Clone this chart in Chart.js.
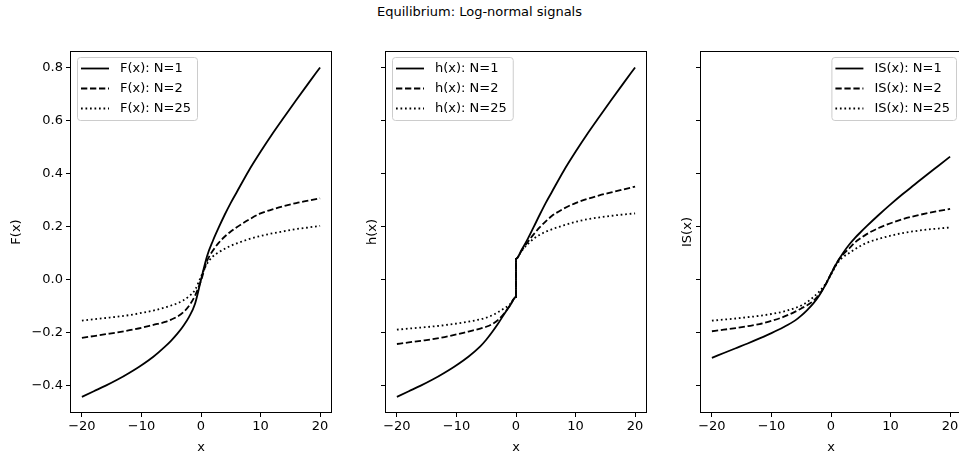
<!DOCTYPE html>
<html>
<head>
<meta charset="utf-8">
<script src="https://cdn.jsdelivr.net/npm/chart.js@4.4.1/dist/chart.umd.min.js"></script>
<style>
  html, body { margin: 0; padding: 0; overflow: hidden; background: #fff; }
  body { width: 959px; height: 457px; position: relative; font-family: "DejaVu Sans", sans-serif; }
  #title { position: absolute; left: 0; top: 4px; width: 959px; text-align: center; font-size: 13px; line-height: 16px; color: #000; }
  canvas { position: absolute; top: 40px; }
</style>
</head>
<body>
<div id="title">Equilibrium: Log-normal signals</div>
<canvas id="c1" width="340" height="417" style="left:0px"></canvas>
<canvas id="c2" width="315" height="417" style="left:340px"></canvas>
<canvas id="c3" width="315" height="417" style="left:655px"></canvas>
<script>
// x grid; h(x) jumps at 0, so 0 appears twice there
const xVals = [-20, -18, -16, -14, -12, -10, -8, -6, -5, -4, -3, -2, -1, 0, 1, 2, 3, 4, 5, 6, 8, 10, 12, 14, 16, 18, 20];
const xValsH = [-20, -18, -16, -14, -12, -10, -8, -6, -5, -4, -3, -2, -1, 0, 0, 1, 2, 3, 4, 5, 6, 8, 10, 12, 14, 16, 18, 20];

const F1 = [-0.441, -0.42, -0.399, -0.376, -0.35, -0.322, -0.29, -0.251, -0.229, -0.204, -0.175, -0.14, -0.09, 0.0, 0.088, 0.147, 0.198, 0.246, 0.29, 0.33, 0.41, 0.482, 0.55, 0.614, 0.677, 0.739, 0.80];
const F2 = [-0.219, -0.212, -0.205, -0.198, -0.19, -0.181, -0.17, -0.159, -0.15, -0.139, -0.123, -0.098, -0.06, -0.003, 0.07, 0.11, 0.14, 0.163, 0.182, 0.198, 0.226, 0.25, 0.265, 0.278, 0.289, 0.298, 0.307];
const F25 = [-0.154, -0.149, -0.144, -0.139, -0.133, -0.125, -0.116, -0.104, -0.097, -0.089, -0.078, -0.062, -0.038, 0.012, 0.06, 0.088, 0.104, 0.117, 0.128, 0.137, 0.153, 0.165, 0.175, 0.183, 0.191, 0.197, 0.203];

const h1 = [-0.441, -0.42, -0.399, -0.376, -0.35, -0.322, -0.29, -0.251, -0.226, -0.197, -0.165, -0.13, -0.097, -0.065, 0.079, 0.115, 0.155, 0.2, 0.246, 0.29, 0.33, 0.41, 0.482, 0.55, 0.614, 0.677, 0.739, 0.80];
const h2 = [-0.242, -0.236, -0.23, -0.224, -0.216, -0.206, -0.195, -0.184, -0.177, -0.167, -0.151, -0.127, -0.096, -0.065, 0.079, 0.112, 0.143, 0.172, 0.198, 0.22, 0.24, 0.268, 0.289, 0.305, 0.318, 0.329, 0.34, 0.351];
const h25 = [-0.188, -0.184, -0.18, -0.176, -0.171, -0.165, -0.158, -0.149, -0.143, -0.134, -0.122, -0.108, -0.092, -0.065, 0.079, 0.11, 0.135, 0.155, 0.17, 0.181, 0.19, 0.205, 0.218, 0.228, 0.235, 0.241, 0.246, 0.25];

const IS1 = [-0.294, -0.276, -0.258, -0.24, -0.221, -0.201, -0.179, -0.153, -0.135, -0.114, -0.09, -0.06, -0.022, 0.022, 0.064, 0.1, 0.131, 0.157, 0.18, 0.202, 0.244, 0.284, 0.322, 0.358, 0.394, 0.429, 0.464];
const IS2 = [-0.194, -0.188, -0.182, -0.175, -0.167, -0.155, -0.14, -0.12, -0.108, -0.096, -0.08, -0.056, -0.022, 0.022, 0.065, 0.095, 0.117, 0.14, 0.157, 0.172, 0.195, 0.213, 0.228, 0.24, 0.25, 0.259, 0.267];
const IS25 = [-0.154, -0.15, -0.146, -0.141, -0.136, -0.129, -0.12, -0.106, -0.097, -0.084, -0.066, -0.045, -0.018, 0.02, 0.06, 0.085, 0.1, 0.115, 0.128, 0.139, 0.154, 0.166, 0.176, 0.183, 0.189, 0.193, 0.197];

const yTicks = [-0.4, -0.2, 0, 0.2, 0.4, 0.6, 0.8];
const xTicks = [-20, -10, 0, 10, 20];
const nLabels = ['N=1', 'N=2', 'N=25'];
const dashes = [[], [6.3, 2.7], [1.7, 2.8]];

const FONT = 'DejaVu Sans';
const FS = 13;

function fmt(v, d) {
  return (v < 0 ? '\u2212' : '') + Math.abs(v).toFixed(d);
}

// black frame round the plot area
const frame = {
  id: 'frame',
  afterDatasetsDraw(chart) {
    const { ctx, chartArea: a } = chart;
    ctx.save();
    ctx.strokeStyle = '#000';
    ctx.lineWidth = 1;
    ctx.strokeRect(Math.round(a.left) + 0.5, Math.round(a.top) + 0.5,
      Math.round(a.right - a.left) - 1, Math.round(a.bottom - a.top) - 1);
    ctx.restore();
  }
};

// matplotlib-like legend box inside the plot
const legendBox = {
  id: 'legendBox',
  afterDraw(chart, args, opts) {
    const { ctx, chartArea: a } = chart;
    const ds = chart.data.datasets;
    ctx.save();
    ctx.font = FS + 'px "' + FONT + '"';
    const tw = Math.max(...ds.map(d => ctx.measureText(d.label).width));
    const w = 4 + 28 + 11 + tw + 6, h = 63;
    const x0 = opts.align === 'right' ? a.right - 6 - w : a.left + 7;
    const y0 = a.top + 6;
    ctx.beginPath();
    ctx.roundRect(x0 + 0.5, y0 + 0.5, w, h, 3);
    ctx.fillStyle = 'rgba(255,255,255,0.8)';
    ctx.fill();
    ctx.strokeStyle = '#cccccc';
    ctx.lineWidth = 1;
    ctx.stroke();
    ds.forEach((d, i) => {
      const y = y0 + 11.5 + i * 20;
      ctx.strokeStyle = '#000';
      ctx.lineWidth = d.borderWidth;
      ctx.setLineDash(d.borderDash);
      ctx.beginPath();
      ctx.moveTo(x0 + 4, y);
      ctx.lineTo(x0 + 32, y);
      ctx.stroke();
      ctx.setLineDash([]);
      ctx.fillStyle = '#000';
      ctx.textBaseline = 'middle';
      ctx.fillText(d.label, x0 + 43, y + 0.5);
    });
    ctx.restore();
  }
};

function makePanel(id, xs, series, name, yW, titlePad, showY, align) {
  new Chart(document.getElementById(id), {
    type: 'line',
    data: {
      datasets: series.map((ys, i) => ({
        label: name + ': ' + nLabels[i],
        data: xs.map((x, j) => ({ x: x, y: ys[j] })),
        borderColor: '#000',
        borderWidth: 1.8,
        borderDash: dashes[i],
        pointRadius: 0,
        fill: false,
        cubicInterpolationMode: 'monotone'
      }))
    },
    options: {
      responsive: false,
      animation: false,
      events: [],
      layout: { padding: { top: 11, right: 8, left: 0, bottom: 0 } },
      plugins: {
        legend: { display: false },
        tooltip: { enabled: false },
        legendBox: { align: align }
      },
      scales: {
        x: {
          type: 'linear',
          min: -22,
          max: 22,
          afterBuildTicks: s => { s.ticks = xTicks.map(v => ({ value: v })); },
          afterFit: s => { s.height = 44; },
          grid: { drawOnChartArea: false, drawTicks: true, tickLength: 4, color: '#000' },
          border: { display: false },
          ticks: {
            color: '#000', font: { family: FONT, size: FS }, padding: 2,
            maxRotation: 0, autoSkip: false, callback: v => fmt(v, 0)
          },
          title: {
            display: true, text: 'x', color: '#000',
            font: { family: FONT, size: FS }, padding: { top: 0, bottom: 2 }
          }
        },
        y: {
          min: -0.502,
          max: 0.862,
          afterBuildTicks: s => { s.ticks = yTicks.map(v => ({ value: v })); },
          afterFit: s => { s.width = yW; },
          grid: { drawOnChartArea: false, drawTicks: true, tickLength: 4, color: '#000' },
          border: { display: false },
          ticks: {
            color: '#000', font: { family: FONT, size: FS }, padding: 3,
            autoSkip: false, callback: v => showY ? fmt(v, 1) : ''
          },
          title: {
            display: true, text: name, color: '#000',
            font: { family: FONT, size: FS }, padding: { top: titlePad, bottom: 0 }
          }
        }
      }
    },
    plugins: [frame, legendBox]
  });
}

makePanel('c1', xVals, [F1, F2, F25], 'F(x)', 70, 9.2, true, 'left');
makePanel('c2', xValsH, [h1, h2, h25], 'h(x)', 45, 25.2, false, 'left');
makePanel('c3', xVals, [IS1, IS2, IS25], 'IS(x)', 45, 25.2, false, 'right');
</script>
</body>
</html>
